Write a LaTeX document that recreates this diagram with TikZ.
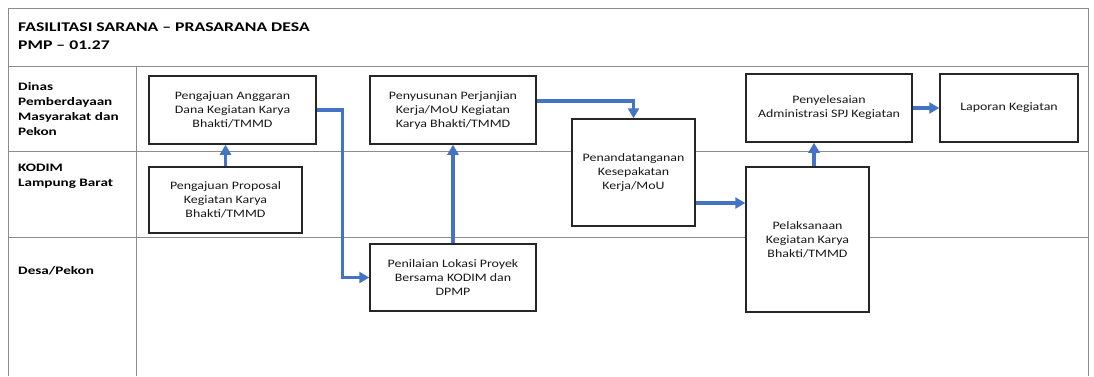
\documentclass[tikz,border=0pt]{standalone}
\usepackage{fontspec}
\setmainfont{Carlito}[FakeStretch=1.22]
\newfontfamily\headfont{Carlito}[FakeStretch=1.33]
\usetikzlibrary{arrows.meta,calc}
\definecolor{alurbiru}{HTML}{4472C4}
\definecolor{garisabu}{HTML}{8C8C8C}

\begin{document}
\begin{tikzpicture}[
  x=1pt, y=-1pt,
  font=\fontsize{11.4}{14}\selectfont,
  proses/.style={draw=black!85, line width=1.5pt, fill=white, align=center, inner sep=2pt, text=black!90},
  jalur/.style={font=\headfont\bfseries\fontsize{11.4}{15}\selectfont, anchor=west, align=left, inner sep=0pt},
  garis/.style={draw=garisabu, line width=1pt},
  alur/.style={draw=alurbiru, line width=3.4pt, -{Triangle[length=10pt,width=11pt]}},
]
\useasboundingbox (0,0) rectangle (1094,376);

% Table frame and swimlanes
\draw[garis] (8,376) -- (8,8) -- (1088,8) -- (1088,376);
\draw[garis] (8,66) -- (1088,66);
\draw[garis] (136,66) -- (136,376);
\draw[garis] (8,151) -- (1088,151);
\draw[garis] (8,237) -- (1088,237);

% Header
\node[jalur, font=\headfont\bfseries\fontsize{13.3}{18}\selectfont] (judul) at (18,36)
  {FASILITASI SARANA – PRASARANA DESA\\PMP – 01.27};

% Lane labels
\node[jalur] (dinas) at (18,109.5) {Dinas\\Pemberdayaan\\Masyarakat dan\\Pekon};
\node[jalur] (kodim) at (18,176.5) {KODIM\\Lampung Barat};
\node[jalur] (desa) at (18,271) {Desa/Pekon};

% Process steps
\node[proses, minimum width=167pt, minimum height=68pt] (ajuan) at (232.5,110)
  {Pengajuan Anggaran\\Dana Kegiatan Karya\\Bhakti/TMMD};
\node[proses, minimum width=153pt, minimum height=66pt] (proposal) at (225.5,200)
  {Pengajuan Proposal\\Kegiatan Karya\\Bhakti/TMMD};
\node[proses, minimum width=166pt, minimum height=68pt] (susun) at (453,110)
  {Penyusunan Perjanjian\\Kerja/MoU Kegiatan\\Karya Bhakti/TMMD};
\node[proses, minimum width=166pt, minimum height=67pt] (nilai) at (453,277.5)
  {Penilaian Lokasi Proyek\\Bersama KODIM dan\\DPMP};
\node[proses, minimum width=123pt, minimum height=107pt] (tanda) at (633.5,172.5)
  {Penandatanganan\\Kesepakatan\\Kerja/MoU};
\node[proses, minimum width=166pt, minimum height=68pt] (selesai) at (829,108)
  {Penyelesaian\\Administrasi SPJ Kegiatan};
\node[proses, minimum width=138pt, minimum height=68pt] (laporan) at (1009,108)
  {Laporan Kegiatan};
\node[proses, minimum width=123pt, minimum height=145pt] (laksana) at (807.5,239.5)
  {Pelaksanaan\\Kegiatan Karya\\Bhakti/TMMD};

% Flow
\draw[alur] (proposal.north) -- (proposal.north |- ajuan.south);
\draw[alur] (ajuan.east) -- ++(26,0) |- (nilai.west);
\draw[alur] (nilai.north) -- (susun.south);
\draw[alur] ($(susun.east)+(0,-9)$) -| (tanda.north);
\coordinate (t1) at ($(tanda.east)+(0,30.5)$);
\draw[alur] (t1) -- (t1 -| laksana.west);
\coordinate (t2) at ($(laksana.north)+(6.5,0)$);
\draw[alur] (t2) -- (t2 |- selesai.south);
\draw[alur] (selesai.east) -- (laporan.west);

\end{tikzpicture}
\end{document}
